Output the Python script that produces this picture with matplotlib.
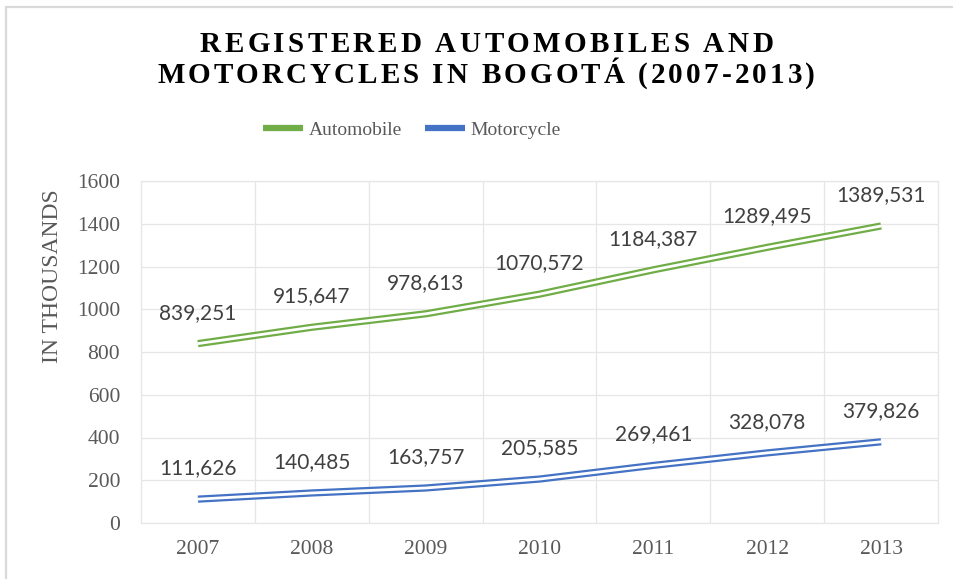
import matplotlib
matplotlib.use("Agg")
import matplotlib.pyplot as plt
from matplotlib.font_manager import FontProperties
from matplotlib.patches import Rectangle
from matplotlib.ticker import MultipleLocator

years = ["2007", "2008", "2009", "2010", "2011", "2012", "2013"]
automobile = [839.251, 915.647, 978.613, 1070.572, 1184.387, 1289.495, 1389.531]
motorcycle = [111.626, 140.485, 163.757, 205.585, 269.461, 328.078, 379.826]
auto_labels = ["839,251", "915,647", "978,613", "1070,572", "1184,387", "1289,495", "1389,531"]
moto_labels = ["111,626", "140,485", "163,757", "205,585", "269,461", "328,078", "379,826"]
title_lines = ["REGISTERED AUTOMOBILES AND", "MOTORCYCLES IN BOGOTÁ (2007-2013)"]
series_names = ["Automobile", "Motorcycle"]

GREEN = "#70ad47"
BLUE = "#4472c4"
GRID = "#e6e6e6"
TXT = "#595959"
LBL = "#404040"

W, H = 954, 579
fig = plt.figure(figsize=(W / 100, H / 100), dpi=100)
fig.patch.set_facecolor("white")

# chart outer border (cut off right/bottom)
fig.patches.append(Rectangle((6.5 / W, -0.05), 1.1, 1 - 6.5 / H + 0.05,
                             transform=fig.transFigure, fill=False,
                             edgecolor="#d9d9d9", linewidth=1.6))

ax = fig.add_axes([141 / W, (H - 523) / H, (938 - 141) / W, (523 - 181) / H])
x = list(range(len(years)))

for vals, col in [(automobile, GREEN), (motorcycle, BLUE)]:
    ax.plot(x, vals, color=col, lw=5.2, solid_capstyle="butt", zorder=3)
    ax.plot(x, vals, color="white", lw=2.0, solid_capstyle="butt", zorder=4)

for vals, labs in [(automobile, auto_labels), (motorcycle, moto_labels)]:
    for xi, v, s in zip(x, vals, labs):
        ax.annotate(s, (xi, v), xytext=(0, 18), textcoords="offset points",
                    ha="center", va="baseline", fontsize=15, color=LBL,
                    family="Lato", zorder=5)

ax.set_xlim(-0.5, len(years) - 0.5)
ax.set_ylim(0, 1600)
ax.yaxis.set_major_locator(MultipleLocator(200))
ax.set_xticks(x)
ax.set_xticklabels(years)
ax.set_xticks([i + 0.5 for i in x[:-1]], minor=True)
ax.grid(axis="y", which="major", color=GRID, lw=0.9)
ax.grid(axis="x", which="minor", color=GRID, lw=0.9)
ax.grid(axis="x", which="major", visible=False)
ax.set_axisbelow(True)
for sp in ax.spines.values():
    sp.set_color(GRID)
    sp.set_linewidth(0.9)
ax.tick_params(which="both", length=0)
ax.tick_params(axis="y", pad=15, labelsize=15.5, labelcolor=TXT)
ax.tick_params(axis="x", pad=12, labelsize=15.5, labelcolor=TXT)
for t in ax.get_xticklabels() + ax.get_yticklabels():
    t.set_family("Liberation Serif")

fig.text(53 / W, 1 - 276 / H, "IN THOUSANDS", rotation=90, ha="center", va="center",
         fontsize=17, color=TXT, family="Liberation Serif")

# legend
handles = [plt.Line2D([], [], color=GREEN, lw=4.5, solid_capstyle="butt"),
           plt.Line2D([], [], color=BLUE, lw=4.5, solid_capstyle="butt")]
leg = fig.legend(handles, series_names, loc="center", bbox_to_anchor=(412 / W, 1 - 130 / H),
                 ncol=2, frameon=False, handlelength=2.05, handletextpad=0.27,
                 columnspacing=1.2, prop=FontProperties(family="Liberation Serif", size=14))
for t in leg.get_texts():
    t.set_color(TXT)

# title with letter tracking
renderer = fig.canvas.get_renderer()
fp = FontProperties(family="Liberation Serif", weight="bold", size=21)
targets = [(200, 773, 52), (157, 815, 83)]
for line, (x0, x1, base) in zip(title_lines, targets):
    widths = [renderer.get_text_width_height_descent(ch, fp, ismath=False)[0] for ch in line]
    spacing = ((x1 - x0) - sum(widths)) / (len(line) - 1)
    cx = x0
    for ch, w in zip(line, widths):
        fig.text(cx / W, 1 - base / H, ch, fontproperties=fp, color="black",
                 ha="left", va="baseline")
        cx += w + spacing

fig.savefig("out.png", dpi=100, facecolor="white")
